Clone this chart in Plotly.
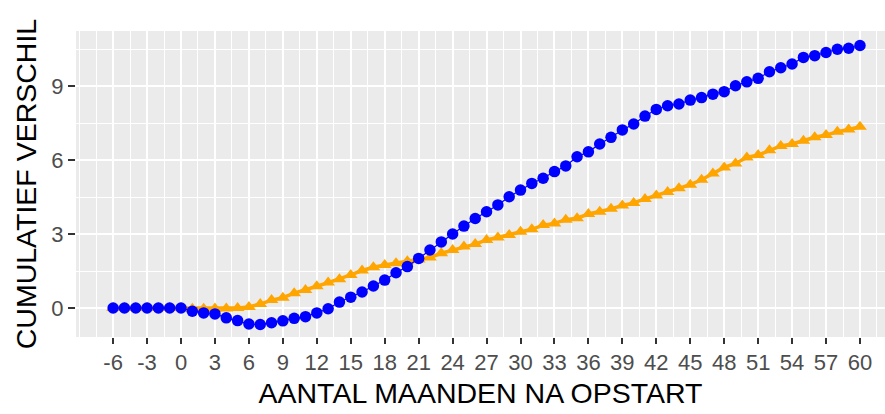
import plotly.graph_objects as go

# Months relative to start-up (-6 .. 60)
months = list(range(-6, 61))

# Cumulative difference, group drawn with blue circles
blue_vals = [
    0.0, 0.0, 0.0, 0.0, 0.0, 0.0, 0.0,                 # -6 .. 0
    -0.13, -0.20, -0.24, -0.40, -0.51, -0.65,          # 1 .. 6
    -0.67, -0.60, -0.52, -0.42, -0.35, -0.20,          # 7 .. 12
    -0.03, 0.24, 0.44, 0.65, 0.89, 1.13,               # 13 .. 18
    1.43, 1.68, 2.01, 2.35, 2.68, 3.00,                # 19 .. 24
    3.32, 3.63, 3.90, 4.18, 4.51, 4.78,                # 25 .. 30
    5.05, 5.26, 5.53, 5.76, 6.13, 6.33,                # 31 .. 36
    6.65, 6.92, 7.22, 7.46, 7.78, 8.05,                # 37 .. 42
    8.20, 8.27, 8.43, 8.53, 8.67, 8.77,                # 43 .. 48
    9.01, 9.17, 9.31, 9.58, 9.74, 9.89,                # 49 .. 54
    10.16, 10.23, 10.36, 10.49, 10.53, 10.64,          # 55 .. 60
]

# Cumulative difference, group drawn with orange triangles
orange_vals = [
    0.0, 0.0, 0.0, 0.0, 0.0, 0.0, 0.0,                 # -6 .. 0
    -0.03, -0.03, -0.02, -0.02, 0.00, 0.04,            # 1 .. 6
    0.16, 0.32, 0.42, 0.60, 0.73, 0.88,                # 7 .. 12
    1.03, 1.17, 1.34, 1.52, 1.65, 1.74,                # 13 .. 18
    1.81, 1.90, 1.97, 2.05, 2.22, 2.35,                # 19 .. 24
    2.49, 2.59, 2.76, 2.86, 2.96, 3.09,                # 25 .. 30
    3.19, 3.36, 3.43, 3.58, 3.64, 3.81,                # 31 .. 36
    3.90, 4.02, 4.16, 4.26, 4.42, 4.56,                # 37 .. 42
    4.70, 4.85, 5.00, 5.20, 5.45, 5.70,                # 43 .. 48
    5.86, 6.10, 6.20, 6.40, 6.57, 6.65,                # 49 .. 54
    6.78, 6.92, 7.01, 7.15, 7.24, 7.35,                # 55 .. 60
]

x_ticks = list(range(-6, 61, 3))
y_ticks = [0, 3, 6, 9]

FONT = "Liberation Sans, Arial, sans-serif"

fig = go.Figure()

fig.add_trace(go.Scatter(
    x=months, y=orange_vals, mode="lines+markers",
    line=dict(color="#FFA500", width=3.5),
    marker=dict(symbol="triangle-up", size=12, color="#FFA500"),
    showlegend=False, hoverinfo="x+y",
))
fig.add_trace(go.Scatter(
    x=months, y=blue_vals, mode="lines+markers",
    line=dict(color="#0000FF", width=1.2),
    marker=dict(symbol="circle", size=11.5, color="#0000FF"),
    showlegend=False, hoverinfo="x+y",
))

# start-up marker and zero reference
fig.add_vline(x=0, line=dict(color="#B22222", width=2, dash="dash"), layer="below")
fig.add_hline(y=0, line=dict(color="black", width=1.6), layer="below")

fig.update_layout(
    width=885, height=414,
    margin=dict(l=76, r=0, t=31, b=77),
    paper_bgcolor="white",
    plot_bgcolor="#EBEBEB",
    font=dict(family=FONT, color="#4D4D4D"),
    xaxis=dict(
        range=[-9.28, 62.21],
        tickvals=x_ticks,
        ticktext=[str(v) for v in x_ticks],
        ticks="outside", ticklen=6, tickwidth=1.5, tickcolor="#333333",
        tickfont=dict(size=22, color="#4D4D4D", family=FONT),
        showgrid=True, gridcolor="white", gridwidth=1.6,
        minor=dict(dtick=1.5, tick0=0, showgrid=True, gridcolor="white", gridwidth=0.9),
        zeroline=False, showline=False,
        title=dict(text="AANTAL MAANDEN NA OPSTART",
                   font=dict(size=28.5, color="black", family=FONT), standoff=8),
    ),
    yaxis=dict(
        range=[-1.176, 11.23],
        tickvals=y_ticks,
        ticktext=[str(v) for v in y_ticks],
        ticks="outside", ticklen=7, tickwidth=1.5, tickcolor="#333333",
        tickfont=dict(size=22, color="#4D4D4D", family=FONT),
        showgrid=True, gridcolor="white", gridwidth=1.6,
        minor=dict(dtick=1.5, tick0=0, showgrid=True, gridcolor="white", gridwidth=0.9),
        zeroline=False, showline=False,
        title=dict(text="CUMULATIEF VERSCHIL",
                   font=dict(size=28.5, color="black", family=FONT), standoff=6),
    ),
)

fig.write_html("out.html")
